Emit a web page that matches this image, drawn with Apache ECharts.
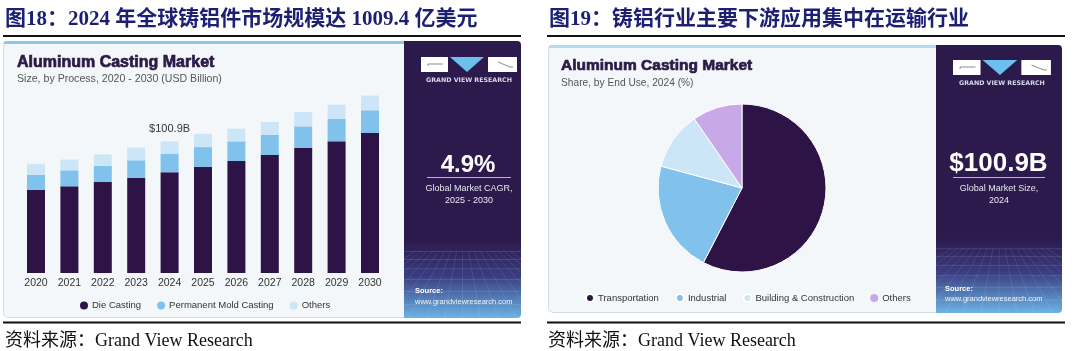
<!DOCTYPE html>
<html>
<head>
<meta charset="utf-8">
<script src="https://cdn.jsdelivr.net/npm/echarts@6/dist/echarts.min.js"></script>
<style>
html,body{margin:0;padding:0;background:#fff;}
#c{width:1080px;height:351px;}
</style>
</head>
<body>
<div id="c"></div>
<script>
// ---- data ----
const years = ['2020','2021','2022','2023','2024','2025','2026','2027','2028','2029','2030'];
const dieCasting = [63.8, 66.4, 69.7, 72.8, 77.2, 81.2, 85.8, 90.4, 95.8, 100.9, 107.3];
const permanentMold = [11.5, 12.3, 12.5, 13.6, 14.3, 15.3, 15.1, 15.6, 16.6, 17.1, 17.4];
const othersProcess = [8.4, 8.2, 8.7, 9.7, 9.4, 10.2, 9.7, 9.7, 11.0, 11.0, 11.3];
const processNames = ['Die Casting', 'Permanent Mold Casting', 'Others'];
const highlightYear = '2024';
const highlightLabel = '$100.9B';

const endUse = ['Transportation', 'Industrial', 'Building & Construction', 'Others'];
const endUseShare = [57.6, 21.6, 11.2, 9.6];

const title18 = '图18：2024 年全球铸铝件市场规模达 1009.4 亿美元';
const title19 = '图19：铸铝行业主要下游应用集中在运输行业';
const sourceText = '资料来源：Grand View Research';

// ---- style ----
const DARK = '#2e1446';
const MID = '#80c2ec';
const LIGHT = '#cde6f7';
const LILAC = '#c8a8e6';
const PANEL = '#2c1a4c';
const procColors = [DARK, MID, LIGHT];
const pieColors = [DARK, MID, LIGHT, LILAC];
const SANS = "'Liberation Sans', Arial, sans-serif";
const SERIF = "'Liberation Serif', 'Noto Sans CJK SC', serif";

const chart = echarts.init(document.getElementById('c'), null, {renderer: 'canvas'});

function darkPanel(x, y, w, h) {
  const els = [];
  els.push({type: 'rect', z: 1, shape: {x: x, y: y, width: w, height: h, r: [0, 4, 4, 0]},
    style: {fill: new echarts.graphic.LinearGradient(0, 0, 0, 1, [
      {offset: 0, color: PANEL}, {offset: 0.72, color: PANEL},
      {offset: 0.85, color: '#3a3d82'}, {offset: 1, color: '#6cb4e4'}])}});
  const gTop = y + h * 0.76;
  const gy = [0.0, 0.12, 0.26, 0.42, 0.6, 0.8];
  gy.forEach(f => {
    const yy = gTop + (y + h - gTop) * f;
    els.push({type: 'line', z: 2, shape: {x1: x, y1: yy, x2: x + w, y2: yy},
      style: {stroke: 'rgba(255,255,255,0.12)', lineWidth: 1}});
  });
  for (let i = -8; i <= 8; i++) {
    const cx = x + w / 2;
    els.push({type: 'line', z: 2, shape: {x1: cx + i * 6, y1: gTop, x2: cx + i * 18, y2: y + h},
      style: {stroke: 'rgba(255,255,255,0.09)', lineWidth: 1}});
  }
  return els;
}

function logo(x0, y0, s) {
  const rw = 27 * s, th = 15;
  const els = [];
  els.push({type: 'rect', z: 5, shape: {x: x0, y: y0, width: rw, height: th}, style: {fill: '#fff'}});
  els.push({type: 'polyline', z: 6, shape: {points: [[x0 + 7 * s, y0 + 9], [x0 + 7 * s, y0 + 7], [x0 + 22 * s, y0 + 7]]},
    style: {stroke: '#8a8a9a', lineWidth: 1, fill: null}});
  els.push({type: 'polygon', z: 5, shape: {points: [[x0 + rw + 2 * s, y0], [x0 + rw + 36 * s, y0], [x0 + rw + 19 * s, y0 + th]]},
    style: {fill: '#6cc0ee'}});
  const rx = x0 + rw + 40 * s;
  els.push({type: 'rect', z: 5, shape: {x: rx, y: y0, width: 29 * s, height: th}, style: {fill: '#fff'}});
  els.push({type: 'polyline', z: 6, shape: {points: [[rx + 10 * s, y0 + 5], [rx + 22 * s, y0 + 10], [rx + 25 * s, y0 + 10]]},
    style: {stroke: '#8a8a9a', lineWidth: 1, fill: null}});
  els.push({type: 'text', z: 6, x: x0 + (rw + 40 * s + 29 * s) / 2, y: y0 + th + 8,
    style: {text: 'GRAND VIEW RESEARCH', fill: '#d8d8e8', fontSize: 6.3, fontWeight: 'bold',
      fontFamily: "'DejaVu Sans', sans-serif", textAlign: 'center', textVerticalAlign: 'middle'}});
  return els;
}

function txt(x, y, text, size, opts) {
  return Object.assign({type: 'text', z: 10, x: x, y: y,
    style: Object.assign({text: text, fontSize: size, fill: '#333', fontFamily: SANS,
      textAlign: 'left', textVerticalAlign: 'middle'}, (opts || {}))});
}

let g = [];
g.push(txt(5, 20, title18, 21, {fill: '#1c1f72', fontWeight: 'bold', fontFamily: SERIF}));
g.push(txt(549, 20, title19, 21, {fill: '#1c1f72', fontWeight: 'bold', fontFamily: SERIF}));
g.push({type: 'line', z: 3, shape: {x1: 3, y1: 36, x2: 521, y2: 36}, style: {stroke: '#111', lineWidth: 2}});
g.push({type: 'line', z: 3, shape: {x1: 547, y1: 36, x2: 1065, y2: 36}, style: {stroke: '#111', lineWidth: 2}});
g.push({type: 'line', z: 3, shape: {x1: 3, y1: 322.5, x2: 521, y2: 322.5}, style: {stroke: '#111', lineWidth: 2}});
g.push({type: 'line', z: 3, shape: {x1: 547, y1: 322.5, x2: 1065, y2: 322.5}, style: {stroke: '#111', lineWidth: 2}});
g.push(txt(5, 341, sourceText, 18, {fill: '#111', fontFamily: SERIF}));
g.push(txt(548, 341, sourceText, 18, {fill: '#111', fontFamily: SERIF}));

// left panel
g.push({type: 'rect', z: 0, shape: {x: 3.5, y: 41.5, width: 517, height: 276, r: 5},
  style: {fill: '#f4f7fa', stroke: '#d6dbe1', lineWidth: 1}});
g.push({type: 'rect', z: 1, shape: {x: 3.5, y: 41, width: 401, height: 3, r: [3, 0, 0, 0]}, style: {fill: '#8ec5ea'}});
g = g.concat(darkPanel(404, 41, 117, 277));
g = g.concat(logo(421, 57, 1));
g.push(txt(468, 165, '4.9%', 24, {fill: '#fff', fontWeight: 'bold', textAlign: 'center'}));
g.push({type: 'line', z: 6, shape: {x1: 427, y1: 177.5, x2: 511, y2: 177.5}, style: {stroke: '#b9b6cc', lineWidth: 1}});
g.push(txt(469, 189, 'Global Market CAGR,', 9, {fill: '#e6e6f0', textAlign: 'center'}));
g.push(txt(469, 201, '2025 - 2030', 9, {fill: '#e6e6f0', textAlign: 'center'}));
g.push(txt(415, 291, 'Source:', 7.5, {fill: '#fff', fontWeight: 'bold'}));
g.push(txt(415, 301.5, 'www.grandviewresearch.com', 7.5, {fill: '#eef4fb'}));
g.push(txt(17, 63, 'Aluminum Casting Market', 16, {fill: '#2b1a47', fontWeight: 'bold', stroke: '#2b1a47', lineWidth: 0.7}));
g.push(txt(17, 79, 'Size, by Process, 2020 - 2030 (USD Billion)', 10.6, {fill: '#555'}));

// right panel
g.push({type: 'rect', z: 0, shape: {x: 548.5, y: 45.5, width: 513, height: 267, r: 5},
  style: {fill: '#f4f7fa', stroke: '#d6dbe1', lineWidth: 1}});
g.push({type: 'rect', z: 1, shape: {x: 548.5, y: 45, width: 388, height: 3, r: [3, 0, 0, 0]}, style: {fill: '#b3dcf1'}});
g = g.concat(darkPanel(936, 45, 126, 268));
g = g.concat(logo(953, 60, 1.02));
g.push(txt(998.5, 164, '$100.9B', 26, {fill: '#fff', fontWeight: 'bold', textAlign: 'center'}));
g.push({type: 'line', z: 6, shape: {x1: 953, y1: 177.5, x2: 1045, y2: 177.5}, style: {stroke: '#b9b6cc', lineWidth: 1}});
g.push(txt(999, 188.5, 'Global Market Size,', 9, {fill: '#e6e6f0', textAlign: 'center'}));
g.push(txt(999, 200.5, '2024', 9, {fill: '#e6e6f0', textAlign: 'center'}));
g.push(txt(945, 288.5, 'Source:', 7.5, {fill: '#fff', fontWeight: 'bold'}));
g.push(txt(945, 298.5, 'www.grandviewresearch.com', 7.5, {fill: '#eef4fb'}));
g.push(txt(561, 66, 'Aluminum Casting Market', 15.5, {fill: '#2b1a47', fontWeight: 'bold', stroke: '#2b1a47', lineWidth: 0.7}));
g.push(txt(561, 83, 'Share, by End Use, 2024 (%)', 10.2, {fill: '#555'}));

const procSeries = [dieCasting, permanentMold, othersProcess].map((arr, i) => ({
  name: processNames[i],
  type: 'bar',
  stack: 'total',
  barWidth: 18,
  z: 5,
  itemStyle: {color: procColors[i]},
  data: arr,
  label: i === 2 ? {
    show: true, position: 'top', distance: 7, color: '#333', fontSize: 11, fontFamily: SANS,
    formatter: p => (years[p.dataIndex] === highlightYear ? highlightLabel : '')
  } : {show: false}
}));

const option = {
  animation: false,
  backgroundColor: '#ffffff',
  graphic: {elements: g},
  grid: {left: 19.3, width: 367.4, top: 90.3, height: 182.7, containLabel: false},
  xAxis: {
    type: 'category', data: years,
    axisLine: {show: false}, axisTick: {show: false},
    axisLabel: {color: '#333', fontSize: 10.5, fontFamily: SANS, margin: 5}
  },
  yAxis: {type: 'value', min: 0, max: 140, show: false, splitLine: {show: false}},
  legend: [
    {
      left: 75, top: 295.5, itemWidth: 8, itemHeight: 8, itemGap: 16, icon: 'circle',
      textStyle: {fontSize: 9.5, color: '#333', fontFamily: SANS, padding: [0, 0, 0, -1]},
      data: processNames.map((n, i) => ({name: n, itemStyle: {color: procColors[i]}}))
    },
    {
      left: 580, top: 288, itemWidth: 8, itemHeight: 8, itemGap: 16, icon: 'circle',
      textStyle: {fontSize: 9.5, color: '#333', fontFamily: SANS, padding: [0, 0, 0, -1]},
      data: endUse.map((n, i) => ({name: n, itemStyle: {color: pieColors[i]}}))
    }
  ],
  series: procSeries.concat([{
    name: 'End Use',
    type: 'pie',
    center: [742, 188],
    radius: [0, 84],
    startAngle: 90,
    clockwise: true,
    z: 5,
    label: {show: false},
    labelLine: {show: false},
    itemStyle: {borderColor: '#ffffff', borderWidth: 1},
    data: endUse.map((n, i) => ({name: n, value: endUseShare[i], itemStyle: {color: pieColors[i]}}))
  }])
};
chart.setOption(option);
</script>
</body>
</html>
